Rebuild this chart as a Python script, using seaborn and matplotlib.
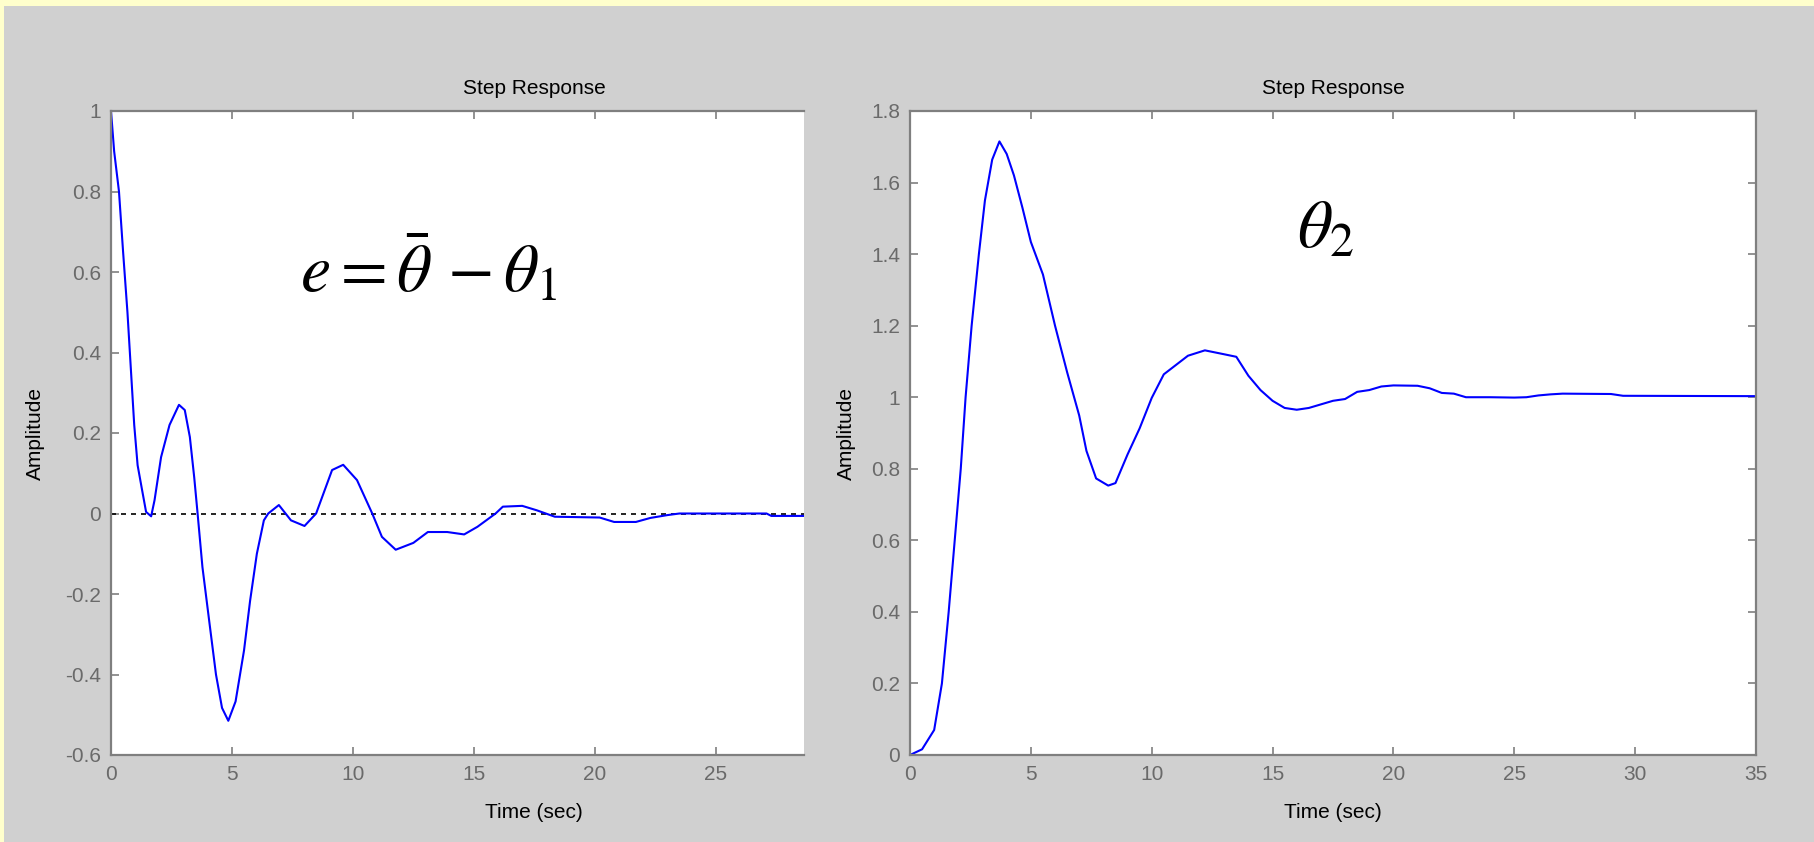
import matplotlib
matplotlib.use('Agg')
import matplotlib.pyplot as plt
from matplotlib.patches import Rectangle
import pandas as pd
import seaborn as sns

# error signal e = theta_bar - theta_1 (left)
err_time = [0, 0.13, 0.33, 0.5, 0.68, 0.82, 0.96, 1.1, 1.28, 1.45, 1.66, 1.8, 2.07, 2.42, 2.81,
            3.05, 3.26, 3.44, 3.58, 3.78, 4.06, 4.34, 4.59, 4.85, 5.15, 5.5, 5.75, 6.03, 6.32,
            6.5, 6.94, 7.44, 8.0, 8.48, 9.14, 9.6, 10.17, 10.8, 11.2, 11.77, 12.5, 13.1, 13.9,
            14.6, 15.15, 15.9, 16.2, 17.0, 17.6, 18.35, 20.2, 20.8, 21.7, 22.3, 23.0, 23.5,
            27.1, 27.3, 28.65]
err_amp = [1.0, 0.9, 0.8, 0.65, 0.5, 0.36, 0.22, 0.12, 0.06, 0.004, -0.007, 0.033, 0.14, 0.22,
           0.27, 0.257, 0.19, 0.09, 0.0, -0.133, -0.267, -0.4, -0.483, -0.515, -0.467, -0.34,
           -0.217, -0.1, -0.017, 0.0, 0.021, -0.017, -0.031, 0.0, 0.108, 0.121, 0.083, 0.0,
           -0.058, -0.09, -0.073, -0.046, -0.046, -0.052, -0.033, 0.0, 0.017, 0.019, 0.008,
           -0.008, -0.01, -0.021, -0.021, -0.011, -0.004, 0.0, 0.0, -0.006, -0.006]

# theta_2 step response (right)
th2_time = [0, 0.5, 1.0, 1.32, 1.6, 1.85, 2.1, 2.3, 2.55, 2.85, 3.1, 3.4, 3.7, 4.0, 4.3, 4.65,
            5.0, 5.5, 6.0, 6.5, 7.0, 7.3, 7.7, 8.2, 8.5, 9.0, 9.5, 10, 10.5, 11, 11.5, 12.2, 13,
            13.5, 14, 14.5, 15, 15.5, 16, 16.5, 17, 17.5, 18, 18.5, 19, 19.5, 20, 21, 21.5, 22,
            22.5, 23, 24, 25, 25.5, 26, 26.5, 27, 29, 29.5, 35]
th2_amp = [0, 0.016, 0.07, 0.2, 0.4, 0.6, 0.8, 1.0, 1.2, 1.4, 1.55, 1.664, 1.715, 1.68, 1.62,
           1.53, 1.434, 1.343, 1.2, 1.07, 0.949, 0.85, 0.773, 0.753, 0.76, 0.84, 0.913, 0.998,
           1.064, 1.09, 1.116, 1.131, 1.12, 1.113, 1.06, 1.02, 0.99, 0.97, 0.965, 0.97, 0.98,
           0.99, 0.995, 1.015, 1.02, 1.03, 1.033, 1.032, 1.025, 1.012, 1.01, 1.0, 1.0, 0.999,
           1.0, 1.005, 1.008, 1.01, 1.009, 1.004, 1.003]

err_ticks_y = [-0.6, -0.4, -0.2, 0, 0.2, 0.4, 0.6, 0.8, 1]
th2_ticks_y = [0, 0.2, 0.4, 0.6, 0.8, 1, 1.2, 1.4, 1.6, 1.8]
err_ticks_x = [0, 5, 10, 15, 20, 25]
th2_ticks_x = [0, 5, 10, 15, 20, 25, 30, 35]

GRAY_BG = '#d0d0d0'
SPINE = '#7f7f7f'
TICKTXT = '#6a6a6a'
FS = 15

sns.set_style('ticks')
plt.rcParams['font.family'] = ['Liberation Sans', 'DejaVu Sans']
plt.rcParams['mathtext.fontset'] = 'stix'

fig = plt.figure(figsize=(18.14, 8.42), dpi=100)
fig.patch.set_facecolor('#ffffcc')
fig.patches.append(Rectangle((4 / 1814, 0), 1, 1 - 6 / 842, transform=fig.transFigure,
                             facecolor=GRAY_BG, edgecolor='none', zorder=-10))

W, H = 1814, 842
ax1 = fig.add_axes([111 / W, 1 - 755 / H, (804 - 111) / W, (755 - 111) / H])
ax2 = fig.add_axes([910 / W, 1 - 755 / H, (1756 - 910) / W, (755 - 111) / H])

df_err = pd.DataFrame({'Time': err_time, 'Amplitude': err_amp})
df_th2 = pd.DataFrame({'Time': th2_time, 'Amplitude': th2_amp})

ax1.axhline(0, color='black', linestyle=(0, (3, 3)), linewidth=1.2, zorder=1)
sns.lineplot(data=df_err, x='Time', y='Amplitude', ax=ax1, color='#0000ff', linewidth=1.5,
             estimator=None, sort=False, zorder=2)
sns.lineplot(data=df_th2, x='Time', y='Amplitude', ax=ax2, color='#0000ff', linewidth=1.5,
             estimator=None, sort=False)

ax1.set_xlim(0, 28.65)
ax1.set_ylim(-0.6, 1)
ax2.set_xlim(0, 35)
ax2.set_ylim(0, 1.8)

ax1.set_xticks(err_ticks_x)
ax1.set_yticks(err_ticks_y)
ax1.set_yticklabels([f'{v:g}' for v in err_ticks_y])
ax2.set_xticks(th2_ticks_x)
ax2.set_yticks(th2_ticks_y)
ax2.set_yticklabels([f'{v:g}' for v in th2_ticks_y])

for ax in (ax1, ax2):
    ax.set_facecolor('white')
    ax.tick_params(direction='in', length=6, width=1.2, color=SPINE, labelcolor=TICKTXT,
                   labelsize=FS, pad=7, top=True, right=True)
    for s in ax.spines.values():
        s.set_color(SPINE)
        s.set_linewidth(1.6)
    ax.set_ylabel('Amplitude', fontsize=FS, color='black')
    ax.set_xlabel('Time (sec)', fontsize=FS, color='black')

# left panel was cut off on the right, so no right frame there
ax1.spines['right'].set_visible(False)
ax1.tick_params(right=False)

ax1.set_title('Step Response', fontsize=FS, color='black', pad=12, x=17.5 / 28.65)
ax2.set_title('Step Response', fontsize=FS, color='black', pad=12)
ax1.xaxis.set_label_coords(17.5 / 28.65, -0.075)
ax2.xaxis.set_label_coords(0.5, -0.075)
ax1.yaxis.set_label_coords(-0.096, 0.5)
ax2.yaxis.set_label_coords(-0.064, 0.5)

ax1.text(7.8, 0.55, r'$e = \bar{\theta}\, - \theta_1$', fontsize=49, color='black',
         ha='left', va='baseline')
ax2.text(16.0, 1.42, r'$\theta_2$', fontsize=49, color='black', ha='left', va='baseline')

fig.savefig('out.png', dpi=100, facecolor=fig.get_facecolor())
